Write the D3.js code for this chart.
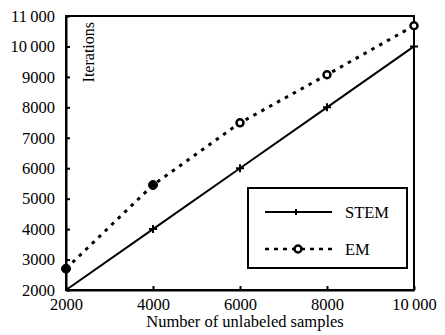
<!DOCTYPE html>
<html><head><meta charset="utf-8">
<script src="https://cdn.jsdelivr.net/npm/d3@7"></script>
<style>
html,body{margin:0;padding:0;background:#fff;}
text{font-family:"Liberation Serif","Times New Roman",serif;fill:#000;}
</style></head>
<body>
<svg id="chart" width="445" height="335"></svg>
<script>
const samples = [2000, 4000, 6000, 8000, 10000];
const stemIterations = [2000, 4000, 6000, 8000, 10000];
const emIterations = [2700, 5450, 7490, 9070, 10680];
const xTicks = [2000, 4000, 6000, 8000, 10000];
const yTicks = [2000, 3000, 4000, 5000, 6000, 7000, 8000, 9000, 10000, 11000];
const seriesNames = ["STEM", "EM"];
const xLabel = "Number of unlabeled samples";
const yLabel = "Iterations";

const svg = d3.select("#chart");
const L = 66, R = 414, T = 16, B = 290;
const x = d3.scaleLinear().domain([2000, 10000]).range([L, R]);
const y = d3.scaleLinear().domain([2000, 11000]).range([B, T]);
const fmt = v => v >= 10000 ? d3.format(",")(v).replace(",", "\u2009") : String(v);

// frame
svg.append("rect").attr("x", L).attr("y", T).attr("width", R - L).attr("height", B - T)
  .attr("fill", "none").attr("stroke", "#000").attr("stroke-width", 2);

// y axis
const ya = svg.append("g").attr("transform", `translate(${L},0)`)
  .call(d3.axisLeft(y).tickValues(yTicks).tickSizeInner(-4).tickSizeOuter(0).tickPadding(11).tickFormat(fmt));
ya.select(".domain").attr("stroke-width", 2);
ya.selectAll(".tick line").attr("stroke-width", 2);
ya.selectAll("text").style("font-size", "16.5px").style("font-family", "Liberation Serif");

// x axis
const xa = svg.append("g").attr("transform", `translate(0,${B})`)
  .call(d3.axisBottom(x).tickValues(xTicks).tickSizeInner(-4).tickSizeOuter(0).tickPadding(8).tickFormat(fmt));
xa.select(".domain").attr("stroke-width", 2);
xa.selectAll(".tick line").attr("stroke-width", 2);
xa.selectAll("text").style("font-size", "16.5px").style("font-family", "Liberation Serif");

// labels
svg.append("text").attr("x", 245).attr("y", 327).attr("text-anchor", "middle")
  .style("font-size", "16.5px").text(xLabel);
svg.append("text").attr("transform", "translate(94,22) rotate(-90)").attr("text-anchor", "end")
  .style("font-size", "16px").text(yLabel);

// lines
const line = d3.line().x(d => x(d[0])).y(d => y(d[1]));
const stemData = samples.map((s, i) => [s, stemIterations[i]]);
const emData = samples.map((s, i) => [s, emIterations[i]]);

svg.append("path").datum(stemData).attr("d", line).attr("fill", "none")
  .attr("stroke", "#000").attr("stroke-width", 2);
svg.append("path").datum(emData).attr("d", line).attr("fill", "none")
  .attr("stroke", "#000").attr("stroke-width", 3).attr("stroke-dasharray", "3.5,5.5");

// markers
function cross(g, cx, cy) {
  g.append("path").attr("d", `M${cx - 4},${cy}H${cx + 4}M${cx},${cy - 4}V${cy + 4}`)
    .attr("stroke", "#000").attr("stroke-width", 2);
}
function circ(g, cx, cy, filled) {
  g.append("circle").attr("cx", cx).attr("cy", cy).attr("r", filled ? 4.5 : 3.5)
    .attr("fill", filled ? "#000" : "#fff").attr("stroke", "#000").attr("stroke-width", filled ? 1 : 2.5);
}
const mk = svg.append("g");
stemData.slice(1).forEach(d => cross(mk, x(d[0]), y(d[1])));
emData.forEach((d, i) => circ(mk, x(d[0]), y(d[1]), i < 2));

// legend
const lg = svg.append("g");
lg.append("rect").attr("x", 248).attr("y", 188).attr("width", 159).attr("height", 80)
  .attr("fill", "#fff").attr("stroke", "#000").attr("stroke-width", 2);
lg.append("line").attr("x1", 265).attr("x2", 332).attr("y1", 212).attr("y2", 212)
  .attr("stroke", "#000").attr("stroke-width", 2);
lg.append("path").attr("d", "M296,209V215").attr("stroke", "#000").attr("stroke-width", 2);
lg.append("line").attr("x1", 265).attr("x2", 332).attr("y1", 249).attr("y2", 249)
  .attr("stroke", "#000").attr("stroke-width", 2.5).attr("stroke-dasharray", "4,5");
circ(lg, 298, 249, false);
lg.append("text").attr("x", 345).attr("y", 218).style("font-size", "16.5px").text(seriesNames[0]);
lg.append("text").attr("x", 345).attr("y", 255).style("font-size", "16.5px").text(seriesNames[1]);
</script>
</body></html>
